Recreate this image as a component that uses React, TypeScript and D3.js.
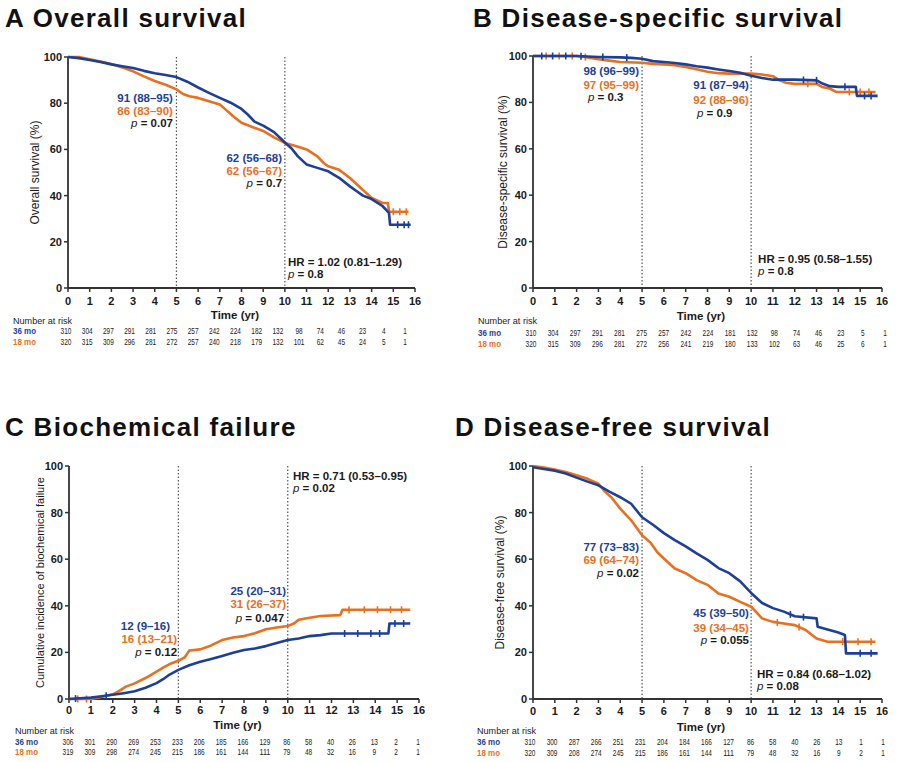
import React from 'react';
import * as d3 from 'd3';

type Pt = [number, number];

const FONT = "'Liberation Sans', Arial, Helvetica, sans-serif";
const BLUE = '#1d3f97';
const ORANGE = '#e8701e';
const INK = '#1a1a1a';

// shared axes
const xTicks = [0, 1, 2, 3, 4, 5, 6, 7, 8, 9, 10, 11, 12, 13, 14, 15, 16];
const yTicks = [0, 20, 40, 60, 80, 100];
const landmarks = [5, 10];
const groupLabels = ['36 mo', '18 mo'];

// A – overall survival (time in yr, % surviving)
const osLong: Pt[] = [[0, 100], [0.5, 99.5], [1, 98.7], [1.5, 97.8], [2, 96.8], [2.5, 96], [3, 95.2], [3.5, 94], [4, 93], [4.5, 92.2], [5, 91.3], [5.5, 89.3], [6, 86.8], [6.5, 84.5], [7, 82.3], [7.5, 80.2], [8, 77.5], [8.3, 75], [8.6, 72], [9, 70.3], [9.5, 67.5], [10, 63], [10.3, 60.5], [10.6, 57], [11, 53.5], [11.5, 52], [12, 50.5], [12.5, 47.7], [13, 44], [13.3, 42], [13.6, 40], [14, 38.5], [14.5, 35.5], [14.8, 32.5], [14.85, 27.4], [15.8, 27.4]];
const osShort: Pt[] = [[0, 100], [0.5, 100], [1, 99], [1.5, 98], [2, 97], [2.5, 95.5], [3, 93.8], [3.5, 91.6], [4, 89.6], [4.5, 88], [5, 86], [5.3, 84], [5.6, 83], [6, 82.3], [6.5, 80.8], [7, 79.4], [7.3, 77], [7.6, 74.5], [8, 71.5], [8.5, 69.7], [9, 68], [9.5, 65.2], [10, 62.8], [10.5, 61.5], [11, 60], [11.5, 57], [11.8, 54], [12, 52.7], [12.5, 51.2], [13, 47.6], [13.5, 43.3], [14, 39], [14.5, 36.8], [14.75, 36.8], [14.8, 33], [15.7, 33]];
const osLongCens = [15.2, 15.5, 15.7];
const osShortCens = [15.0, 15.3, 15.6];
const osRiskLong = [310, 304, 297, 291, 281, 275, 257, 242, 224, 182, 132, 98, 74, 46, 23, 4, 1];
const osRiskShort = [320, 315, 309, 296, 281, 272, 257, 240, 218, 179, 132, 101, 62, 45, 24, 5, 1];

// B – disease-specific survival
const dssLong: Pt[] = [[0, 100], [2, 100], [2.5, 99.8], [3, 99.6], [4, 99.4], [4.5, 99.2], [5, 98.8], [5.5, 97.8], [6, 97.4], [6.5, 97], [7, 96.4], [7.5, 95.6], [8, 95], [8.5, 94.2], [9, 93.5], [9.5, 92.8], [10, 91.5], [10.5, 90.5], [11, 89.8], [12, 89.8], [13, 89.5], [13.3, 88], [13.6, 87], [14, 86.7], [14.8, 86.7], [14.85, 82.8], [15.8, 82.8]];
const dssShort: Pt[] = [[0, 100], [2, 100], [2.5, 99.4], [3, 98.6], [3.5, 98], [4, 97.4], [5, 97.1], [5.5, 96.6], [6, 96.4], [6.5, 96], [7, 95.3], [7.5, 94.3], [8, 93.2], [8.5, 92.6], [9, 92.4], [10, 92.4], [10.5, 92], [11, 91.3], [11.3, 89.5], [11.6, 88.5], [12, 88], [13, 88], [13.3, 86.5], [13.6, 86], [13.9, 84.5], [15.7, 84.5]];
const dssLongCens = [0.4, 0.9, 1.5, 2.2, 3.2, 4.3, 12.4, 13.0, 14.3, 15.2, 15.5];
const dssShortCens = [0.6, 1.2, 1.8, 2.4, 12.6, 14.5, 15.0, 15.4];
const dssRiskLong = [310, 304, 297, 291, 281, 275, 257, 242, 224, 181, 132, 98, 74, 46, 23, 5, 1];
const dssRiskShort = [320, 315, 309, 296, 281, 272, 256, 241, 219, 180, 133, 102, 63, 46, 25, 6, 1];

// C – cumulative incidence of biochemical failure (%)
const bfLong: Pt[] = [[0, 0], [0.5, 0.3], [1, 0.6], [1.5, 1.2], [2, 1.8], [2.5, 2.5], [3, 3.3], [3.5, 4.8], [4, 6.8], [4.3, 8.5], [4.6, 10.5], [5, 12.5], [5.5, 14.5], [6, 16], [6.5, 17.2], [7, 18.5], [7.5, 19.8], [8, 21], [8.5, 21.7], [9, 22.7], [9.5, 24], [10, 25.3], [10.5, 26], [11, 27], [11.5, 27.4], [12, 28.1], [14.6, 28.1], [14.65, 32.4], [15.6, 32.4]];
const bfShort: Pt[] = [[0, 0], [1, 0], [1.3, 0.5], [1.6, 1.2], [2, 2], [2.3, 3.5], [2.6, 5.3], [3, 6.7], [3.5, 9], [4, 11.7], [4.3, 13.5], [4.6, 15], [5, 16.4], [5.3, 18], [5.5, 20.8], [6, 21.3], [6.5, 23], [7, 25.3], [7.5, 26.4], [8, 27], [8.5, 28.2], [9, 29.9], [9.5, 30.7], [10, 31.3], [10.3, 32.5], [10.5, 34], [11, 34.9], [11.5, 35.6], [12.4, 36], [12.5, 38.3], [15.6, 38.3]];
const bfLongCens = [0.3, 1.7, 12.6, 13.2, 13.8, 14.2, 14.9, 15.3];
const bfShortCens = [0.4, 0.8, 12.8, 13.5, 14.1, 14.7, 15.2];
const bfRiskLong = [306, 301, 290, 269, 253, 233, 206, 185, 166, 129, 86, 58, 40, 26, 13, 2, 1];
const bfRiskShort = [319, 309, 298, 274, 245, 215, 186, 161, 144, 111, 79, 48, 32, 16, 9, 2, 1];

// D – disease-free survival
const dfsLong: Pt[] = [[0, 99.5], [0.5, 98.7], [1, 98], [1.5, 96.8], [2, 95], [2.5, 93.3], [3, 91.7], [3.5, 89], [4, 86.6], [4.5, 83.8], [5, 78], [5.5, 74.8], [6, 71.2], [6.5, 68.2], [7, 65.5], [7.5, 62.5], [8, 59.7], [8.5, 56.2], [9, 54], [9.5, 50.5], [10, 45.5], [10.5, 41.2], [11, 39], [11.5, 37.5], [12, 35.5], [13, 34.6], [13.05, 31], [14, 28.5], [14.3, 27.5], [14.35, 19.6], [15.8, 19.6]];
const dfsShort: Pt[] = [[0, 100], [0.5, 99.3], [1, 98.5], [1.5, 97.4], [2, 96], [2.5, 94.5], [3, 92.4], [3.3, 89], [3.6, 86.5], [4, 81.7], [4.5, 76.7], [5, 70.3], [5.4, 67], [5.7, 63], [6, 60.3], [6.5, 56], [7, 54], [7.5, 51], [8, 49], [8.5, 45.3], [9, 43.9], [9.5, 41.7], [10, 39.6], [10.5, 34.6], [11, 33.1], [11.5, 32.4], [12, 31.7], [12.5, 29.6], [13, 26], [13.5, 24.6], [15.7, 24.6]];
const dfsLongCens = [11.8, 12.4, 15.0, 15.5];
const dfsShortCens = [11.2, 12.2, 14.2, 14.9, 15.5];
const dfsRiskLong = [310, 300, 287, 266, 251, 231, 204, 184, 166, 127, 86, 58, 40, 26, 13, 1, 1];
const dfsRiskShort = [320, 309, 208, 274, 245, 215, 186, 161, 144, 111, 79, 48, 32, 16, 9, 2, 1];

type Note = { text: string; t: number; v: number; anchor: 'start' | 'end'; kind: 'long' | 'short' | 'p' | 'hr' };

const osNotes: Note[] = [
  { text: '91 (88–95)', t: 4.84, v: 80.5, anchor: 'end', kind: 'long' },
  { text: '86 (83–90)', t: 4.84, v: 74.9, anchor: 'end', kind: 'short' },
  { text: '0.07', t: 4.84, v: 69.7, anchor: 'end', kind: 'p' },
  { text: '62 (56–68)', t: 9.87, v: 54.5, anchor: 'end', kind: 'long' },
  { text: '62 (56–67)', t: 9.87, v: 48.9, anchor: 'end', kind: 'short' },
  { text: '0.7', t: 9.87, v: 43.7, anchor: 'end', kind: 'p' },
  { text: 'HR = 1.02 (0.81–1.29)', t: 10.14, v: 9.5, anchor: 'start', kind: 'hr' },
  { text: '0.8', t: 10.14, v: 4.3, anchor: 'start', kind: 'p' },
];
const dssNotes: Note[] = [
  { text: '98 (96–99)', t: 4.86, v: 91.8, anchor: 'end', kind: 'long' },
  { text: '97 (95–99)', t: 4.86, v: 85.8, anchor: 'end', kind: 'short' },
  { text: '0.3', t: 2.52, v: 80.6, anchor: 'start', kind: 'p' },
  { text: '91 (87–94)', t: 9.9, v: 85.8, anchor: 'end', kind: 'long' },
  { text: '92 (88–96)', t: 9.9, v: 79.3, anchor: 'end', kind: 'short' },
  { text: '0.9', t: 7.52, v: 73.7, anchor: 'start', kind: 'p' },
  { text: 'HR = 0.95 (0.58–1.55)', t: 10.32, v: 10.8, anchor: 'start', kind: 'hr' },
  { text: '0.8', t: 10.32, v: 5.6, anchor: 'start', kind: 'p' },
];
const bfNotes: Note[] = [
  { text: 'HR = 0.71 (0.53–0.95)', t: 10.24, v: 94, anchor: 'start', kind: 'hr' },
  { text: '0.02', t: 10.24, v: 88.8, anchor: 'start', kind: 'p' },
  { text: '12 (9–16)', t: 4.62, v: 29.6, anchor: 'end', kind: 'long' },
  { text: '16 (13–21)', t: 4.94, v: 24, anchor: 'end', kind: 'short' },
  { text: '0.12', t: 4.94, v: 18.5, anchor: 'end', kind: 'p' },
  { text: '25 (20–31)', t: 9.92, v: 44.6, anchor: 'end', kind: 'long' },
  { text: '31 (26–37)', t: 9.92, v: 39, anchor: 'end', kind: 'short' },
  { text: '0.047', t: 9.83, v: 33, anchor: 'end', kind: 'p' },
];
const dfsNotes: Note[] = [
  { text: '77 (73–83)', t: 4.86, v: 63.5, anchor: 'end', kind: 'long' },
  { text: '69 (64–74)', t: 4.86, v: 57.9, anchor: 'end', kind: 'short' },
  { text: '0.02', t: 4.86, v: 52.4, anchor: 'end', kind: 'p' },
  { text: '45 (39–50)', t: 9.9, v: 35.2, anchor: 'end', kind: 'long' },
  { text: '39 (34–45)', t: 9.9, v: 28.8, anchor: 'end', kind: 'short' },
  { text: '0.055', t: 9.9, v: 23.6, anchor: 'end', kind: 'p' },
  { text: 'HR = 0.84 (0.68–1.02)', t: 10.27, v: 9, anchor: 'start', kind: 'hr' },
  { text: '0.08', t: 10.27, v: 3.9, anchor: 'start', kind: 'p' },
];

interface PanelCfg {
  title: string; ylabel: string; ylabelSize: number;
  left: number; right: number; top: number; bottom: number;
  titleX: number; titleY: number; ylabelX: number;
  tickY: number; timeY: number;
  riskX: number; riskHeaderY: number; riskRowY: [number, number]; riskLeft: number; riskRight: number;
  long: Pt[]; short: Pt[]; longCens: number[]; shortCens: number[];
  riskLong: number[]; riskShort: number[]; notes: Note[];
}

const panels: PanelCfg[] = [
  { title: 'A Overall survival', ylabel: 'Overall survival (%)', ylabelSize: 12,
    left: 68, right: 415, top: 57, bottom: 288, titleX: 5, titleY: 27, ylabelX: 39,
    tickY: 305, timeY: 319, riskX: 13, riskHeaderY: 324, riskRowY: [334, 345], riskLeft: 66, riskRight: 405,
    long: osLong, short: osShort, longCens: osLongCens, shortCens: osShortCens,
    riskLong: osRiskLong, riskShort: osRiskShort, notes: osNotes },
  { title: 'B Disease-specific survival', ylabel: 'Disease-specific survival (%)', ylabelSize: 12,
    left: 533, right: 882, top: 56, bottom: 288, titleX: 473, titleY: 27, ylabelX: 507,
    tickY: 305, timeY: 320, riskX: 478, riskHeaderY: 324, riskRowY: [336, 347], riskLeft: 531, riskRight: 885,
    long: dssLong, short: dssShort, longCens: dssLongCens, shortCens: dssShortCens,
    riskLong: dssRiskLong, riskShort: dssRiskShort, notes: dssNotes },
  { title: 'C Biochemical failure', ylabel: 'Cumulative incidence of biochemical failure', ylabelSize: 11,
    left: 69, right: 419, top: 466, bottom: 699, titleX: 5, titleY: 436, ylabelX: 44,
    tickY: 714, timeY: 729, riskX: 15, riskHeaderY: 734, riskRowY: [745, 755], riskLeft: 68, riskRight: 418,
    long: bfLong, short: bfShort, longCens: bfLongCens, shortCens: bfShortCens,
    riskLong: bfRiskLong, riskShort: bfRiskShort, notes: bfNotes },
  { title: 'D Disease-free survival', ylabel: 'Disease-free survival (%)', ylabelSize: 12,
    left: 533, right: 882, top: 466, bottom: 699, titleX: 455, titleY: 436, ylabelX: 504,
    tickY: 715, timeY: 731, riskX: 477, riskHeaderY: 734, riskRowY: [745, 756], riskLeft: 530, riskRight: 883,
    long: dfsLong, short: dfsShort, longCens: dfsLongCens, shortCens: dfsShortCens,
    riskLong: dfsRiskLong, riskShort: dfsRiskShort, notes: dfsNotes },
];

// value of the traced curve at time t (between readings, along the trace)
const valueAt = (pts: Pt[], t: number) => {
  for (let i = 1; i < pts.length; i++) {
    const [t0, v0] = pts[i - 1];
    const [t1, v1] = pts[i];
    if (t <= t1) return v0 + ((v1 - v0) * (t - t0)) / (t1 - t0);
  }
  return pts[pts.length - 1][1];
};

function Panel({ c }: { c: PanelCfg }) {
  const x = d3.scaleLinear().domain([0, 16]).range([c.left, c.right]);
  const y = d3.scaleLinear().domain([0, 100]).range([c.bottom, c.top]);
  const rx = d3.scaleLinear().domain([0, 16]).range([c.riskLeft, c.riskRight]);
  // readings are dense, so a plain polyline follows the fine KM staircase closely
  const line = d3.line<Pt>().x(d => x(d[0])).y(d => y(d[1])).curve(d3.curveLinear);
  const yMid = (c.top + c.bottom) / 2;

  const curves = [
    { pts: c.short, cens: c.shortCens, color: ORANGE },
    { pts: c.long, cens: c.longCens, color: BLUE },
  ];

  const noteColor = (k: Note['kind']) => (k === 'long' ? BLUE : k === 'short' ? ORANGE : INK);

  return (
    <g fontFamily={FONT}>
      <text x={c.titleX} y={c.titleY} fontSize={26} fontWeight="bold" letterSpacing={1.3} fill="#111">{c.title}</text>

      {/* landmark lines */}
      {landmarks.map(t => (
        <line key={t} x1={x(t)} x2={x(t)} y1={y(100)} y2={y(0)} stroke="#555" strokeWidth={1.2} strokeDasharray="1.5,2" />
      ))}

      {/* y axis */}
      <line x1={c.left} x2={c.left} y1={c.top} y2={c.bottom} stroke="#333" strokeWidth={1.8} />
      {yTicks.map(v => (
        <g key={v}>
          <line x1={c.left - 4} x2={c.left} y1={y(v)} y2={y(v)} stroke="#333" strokeWidth={1.5} />
          <text x={c.left - 6} y={y(v) + 4} textAnchor="end" fontSize={11} fontWeight="bold" fill={INK}>{v}</text>
        </g>
      ))}
      <text transform={`translate(${c.ylabelX},${yMid}) rotate(-90)`} textAnchor="middle" fontSize={c.ylabelSize} fill={INK}>{c.ylabel}</text>

      {/* x axis */}
      <line x1={c.left} x2={c.right} y1={c.bottom} y2={c.bottom} stroke="#333" strokeWidth={1.8} />
      {xTicks.map(t => (
        <g key={t}>
          <line x1={x(t)} x2={x(t)} y1={c.bottom} y2={c.bottom + 4} stroke="#333" strokeWidth={1.5} />
          <text x={x(t)} y={c.tickY} textAnchor="middle" fontSize={11} fontWeight="bold" fill={INK}>{t}</text>
        </g>
      ))}
      <text x={x(7.7)} y={c.timeY} textAnchor="middle" fontSize={11.5} fontWeight="bold" fill={INK}>Time (yr)</text>

      {/* curves */}
      {curves.map((cv, i) => (
        <g key={i}>
          <path d={line(cv.pts) || ''} fill="none" stroke={cv.color} strokeWidth={2.6} strokeLinejoin="round" />
          {cv.cens.map(t => (
            <line key={t} x1={x(t)} x2={x(t)} y1={y(valueAt(cv.pts, t)) - 3.5} y2={y(valueAt(cv.pts, t)) + 3.5} stroke={cv.color} strokeWidth={1.6} />
          ))}
        </g>
      ))}

      {/* annotations */}
      {c.notes.map((n, i) => (
        <text key={i} x={x(n.t)} y={y(n.v)} textAnchor={n.anchor} fontSize={11.5} fontWeight="bold" fill={noteColor(n.kind)}>
          {n.kind === 'p'
            ? <><tspan fontStyle="italic" fontWeight="normal">p</tspan>{' = ' + n.text}</>
            : n.text}
        </text>
      ))}

      {/* number at risk */}
      <text x={c.riskX} y={c.riskHeaderY} fontSize={9.5} fill={INK} textLength={59} lengthAdjust="spacingAndGlyphs">Number at risk</text>
      {groupLabels.map((g, i) => (
        <text key={g} x={c.riskX} y={c.riskRowY[i]} fontSize={9.5} fontWeight="bold" fill={i === 0 ? BLUE : ORANGE}
          textLength={23} lengthAdjust="spacingAndGlyphs">{g}</text>
      ))}
      {[c.riskLong, c.riskShort].map((row, i) =>
        row.map((n, j) => (
          <text key={`${i}-${j}`} x={rx(j)} y={c.riskRowY[i]} textAnchor="middle" fontSize={9.5} fill={INK}
            textLength={String(n).length * 3.6} lengthAdjust="spacingAndGlyphs">{n}</text>
        ))
      )}
    </g>
  );
}

export default function App() {
  return (
    <div style={{ position: 'absolute', left: 0, top: 0 }}>
      <svg width={900} height={762} viewBox="0 0 900 762" style={{ display: 'block', background: '#fff' }}>
        {panels.map((p, i) => <Panel key={i} c={p} />)}
      </svg>
    </div>
  );
}
